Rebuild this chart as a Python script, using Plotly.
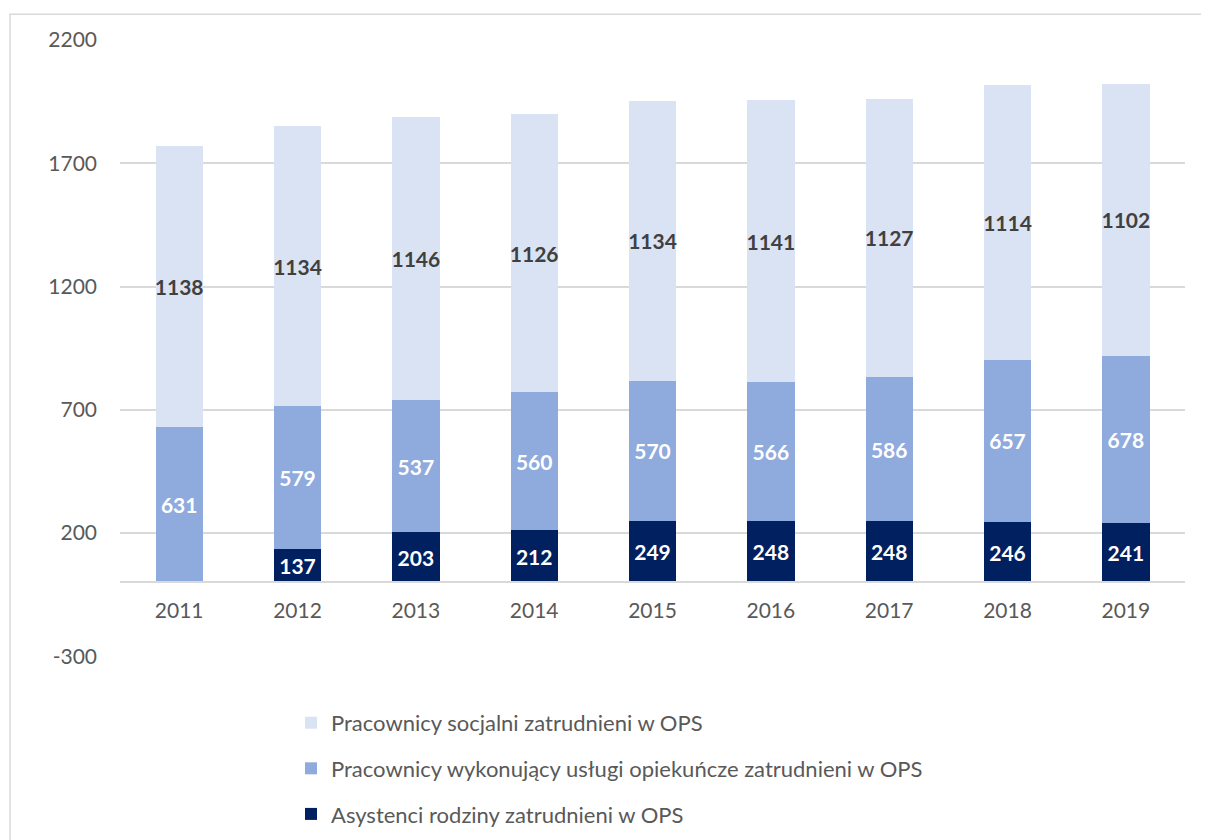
import plotly.graph_objects as go

years = ["2011", "2012", "2013", "2014", "2015", "2016", "2017", "2018", "2019"]
asystenci = [None, 137, 203, 212, 249, 248, 248, 246, 241]
opiekuncze = [631, 579, 537, 560, 570, 566, 586, 657, 678]
socjalni = [1138, 1134, 1146, 1126, 1134, 1141, 1127, 1114, 1102]

names = [
    "Asystenci rodziny zatrudnieni w OPS",
    "Pracownicy wykonujący usługi opiekuńcze zatrudnieni w OPS",
    "Pracownicy socjalni zatrudnieni w OPS",
]
colors = ["#002060", "#8FAADC", "#DAE3F3"]
text_colors = ["#FFFFFF", "#FFFFFF", "#404040"]
ranks = [3, 2, 1]
tickvals = [-300, 200, 700, 1200, 1700, 2200]
y_range = [-300, 2200]

FONT = "Lato"
OFF = 8  # page body margin
W, H = 1209 - 2 * OFF, 840
ML, MT, MB = 120 - OFF, 40 - OFF, 8
MR = W - (1185 - OFF)
pw = W - ML - MR
ph = H - MT - MB

def px_x(p):  # target screen pixel -> paper
    return (p - OFF - ML) / pw

def px_y(p):
    return (H - MB - (p - OFF)) / ph

y_dom_bottom = px_y(665)
zero_pos = y_dom_bottom + (0 - y_range[0]) / (y_range[1] - y_range[0]) * (1 - y_dom_bottom)

fig = go.Figure()
for i, (vals, name) in enumerate(zip([asystenci, opiekuncze, socjalni], names)):
    fig.add_trace(go.Bar(
        x=years, y=vals, name=name, legendgroup=str(i), legendrank=ranks[i],
        marker=dict(color=colors[i], line=dict(width=0)),
        text=[("" if v is None else str(v)) for v in vals],
        textposition="inside", insidetextanchor="middle",
        textangle=0, constraintext="none",
        textfont=dict(family=FONT, size=21, color=text_colors[i], weight="bold"),
        hoverinfo="skip",
    ))

fig.update_layout(
    width=W, height=H,
    margin=dict(l=ML, r=MR, t=MT, b=MB),
    barmode="stack", bargap=0.6,
    plot_bgcolor="rgba(0,0,0,0)", paper_bgcolor="white",
    font=dict(family=FONT, color="#595959"),
    yaxis=dict(
        range=y_range, domain=[y_dom_bottom, 1],
        tickvals=tickvals, ticktext=[str(v) for v in tickvals],
        showgrid=True, gridcolor="#D9D9D9", gridwidth=1.5, zeroline=False,
        showline=False, tickfont=dict(size=21, color="#595959"),
        ticklabelstandoff=22,
    ),
    xaxis=dict(
        anchor="free", position=zero_pos,
        showline=True, linecolor="#D9D9D9", linewidth=1.5,
        showgrid=False, ticks="", tickfont=dict(size=21, color="#595959"),
        ticklabelstandoff=10,
    ),
    showlegend=True,
    legend=dict(
        orientation="v", traceorder="grouped", tracegroupgap=14,
        xref="paper", yref="paper",
        x=px_x(291), xanchor="left", y=px_y(846), yanchor="bottom",
        font=dict(family=FONT, size=22, color="#595959"),
        bgcolor="rgba(0,0,0,0)",
    ),
    shapes=[dict(
        type="rect", xref="paper", yref="paper",
        x0=px_x(10), x1=px_x(1230), y0=px_y(870), y1=px_y(14),
        line=dict(color="#D9D9D9", width=1.5), fillcolor="rgba(0,0,0,0)",
        layer="below",
    )],
)

fig.write_html("out.html")
